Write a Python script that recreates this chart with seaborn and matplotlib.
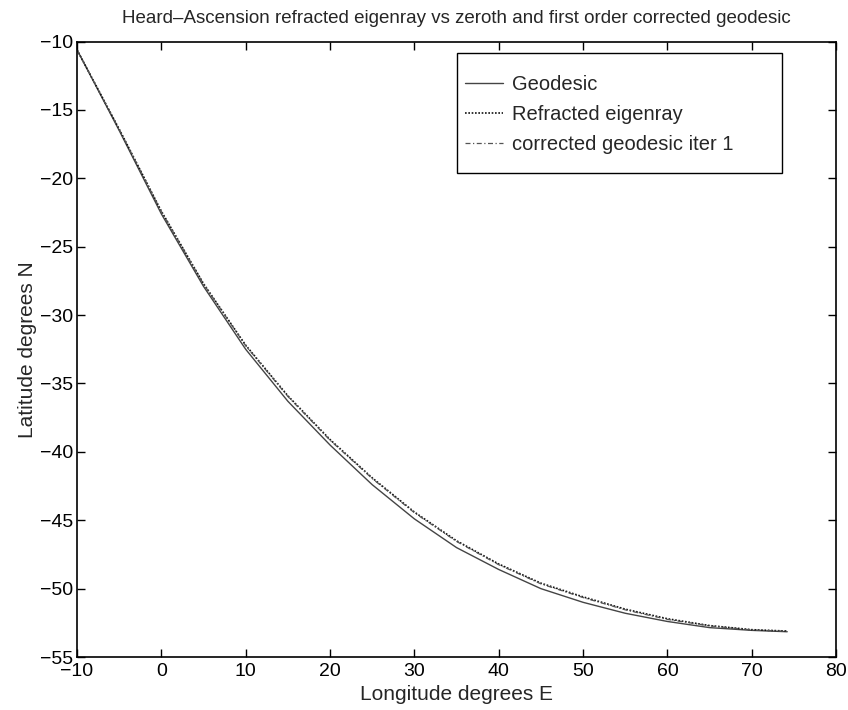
import numpy as np
import pandas as pd
import matplotlib
matplotlib.use("Agg")
import matplotlib.pyplot as plt
from matplotlib.patches import Rectangle
import seaborn as sns

# Data
lon = [-10, -5, 0, 5, 10, 15, 20, 25, 30, 35, 40, 45, 50, 55, 60, 65, 70, 74.2]
lat_geodesic = [-10.6, -16.5, -22.6, -27.9, -32.5, -36.3, -39.5, -42.4, -44.9,
                -47.0, -48.6, -50.0, -51.0, -51.8, -52.4, -52.85, -53.05, -53.15]
lat_refracted = [-10.6, -16.4, -22.4, -27.7, -32.2, -35.9, -39.1, -41.9, -44.4,
                 -46.5, -48.2, -49.6, -50.6, -51.5, -52.2, -52.7, -53.0, -53.1]
lat_corrected = [-10.6, -16.42, -22.43, -27.73, -32.24, -35.95, -39.15, -41.95, -44.45,
                 -46.55, -48.25, -49.65, -50.65, -51.55, -52.25, -52.72, -53.02, -53.12]

x_ticks = [-10, 0, 10, 20, 30, 40, 50, 60, 70, 80]
y_ticks = [-55, -50, -45, -40, -35, -30, -25, -20, -15, -10]

sns.set_theme(style="ticks")
plt.rcParams['font.family'] = ['Liberation Sans', 'DejaVu Sans']

fig = plt.figure(figsize=(8.48, 7.10), dpi=100)
ax = fig.add_axes([0.0908, 0.0746, 0.8952, 0.8669])

df = pd.DataFrame({
    "lon": lon * 3,
    "lat": lat_geodesic + lat_refracted + lat_corrected,
    "series": (["Geodesic"] * len(lon) + ["Refracted eigenray"] * len(lon)
               + ["corrected geodesic iter 1"] * len(lon)),
})

styles = {
    "Geodesic": dict(color="#444444", linestyle="-", linewidth=1.0),
    "Refracted eigenray": dict(color="#111111", linestyle=(0, (1, 1)), linewidth=1.2),
    "corrected geodesic iter 1": dict(color="#555555", linestyle=(0, (4, 2, 1, 2)), linewidth=0.9),
}
for name, st in styles.items():
    sub = df[df["series"] == name]
    sns.lineplot(data=sub, x="lon", y="lat", ax=ax, sort=False, estimator=None,
                 label=name, **st)

ax.set_xlim(-10, 80)
ax.set_ylim(-55, -10)
ax.set_xticks(x_ticks)
ax.set_yticks(y_ticks)
ax.tick_params(direction="in", length=6, width=1, top=True, right=True,
               labelsize=14, colors="black")
ax.tick_params(axis="x", pad=4)
ax.tick_params(axis="y", pad=3)
for s in ax.spines.values():
    s.set_visible(True)
    s.set_linewidth(1.2)
    s.set_color("black")

ax.set_xlabel("Longitude degrees E", fontsize=15, labelpad=4)
ax.set_ylabel("Latitude degrees N", fontsize=15, labelpad=2)
ax.set_title("Heard\u2013Ascension refracted eigenray vs zeroth and first order corrected geodesic",
             fontsize=13.5, pad=13)

# legend box (MATLAB style, wide on the right)
box = Rectangle((0.5007, 0.786), 0.428, 0.195, transform=ax.transAxes,
                facecolor="white", edgecolor="black", linewidth=1.0, zorder=4)
ax.add_patch(box)
leg = ax.legend(loc="center left", bbox_to_anchor=(0.511, 0.882), fontsize=14.5,
                frameon=False, handlelength=1.9, handletextpad=0.45,
                labelspacing=0.55, borderpad=0, borderaxespad=0)
leg.set_zorder(5)

fig.savefig("out.png", dpi=100, facecolor="white")
